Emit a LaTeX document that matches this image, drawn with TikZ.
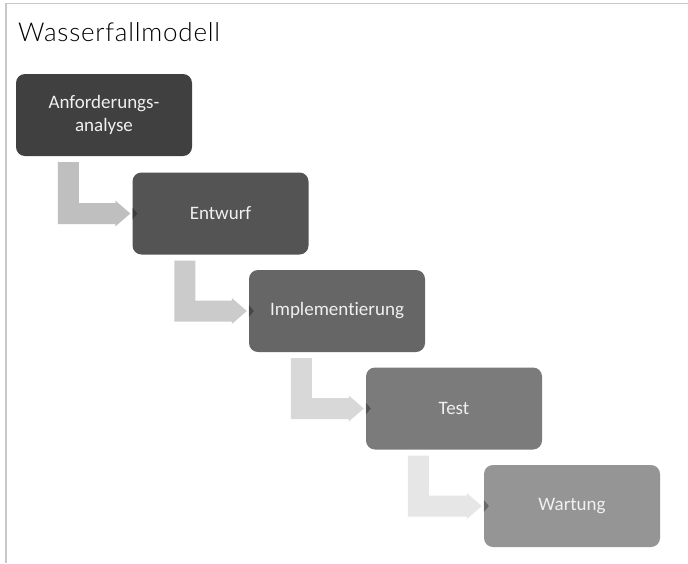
\documentclass[tikz,border=0pt]{standalone}
\usepackage{fontspec}
\setmainfont{Lato}
\newfontfamily\titlefont[LetterSpace=3]{Lato Light}
\newfontfamily\boxfont[Ligatures=NoCommon]{Carlito}
\usetikzlibrary{calc}

\definecolor{frameline}{HTML}{C8C8C8}
\definecolor{phaseA}{HTML}{404040}
\definecolor{phaseB}{HTML}{545454}
\definecolor{phaseC}{HTML}{666666}
\definecolor{phaseD}{HTML}{7B7B7B}
\definecolor{phaseE}{HTML}{959595}
\definecolor{flowA}{HTML}{BFBFBF}
\definecolor{flowB}{HTML}{CBCBCB}
\definecolor{flowC}{HTML}{D8D8D8}
\definecolor{flowD}{HTML}{E6E6E6}

\tikzset{
  phase/.style={rounded corners=9pt, minimum width=176pt, minimum height=82pt,
    inner sep=0pt, align=center, text=white!94!black,
    font=\boxfont\fontsize{19}{23}\selectfont},
}

% bent block arrow from the bottom of one phase into the left side of the next
\newcommand{\stepflow}[3]{%
  \coordinate (fl) at ($(#1.south west)+(42,0)$);
  \coordinate (fr) at ($(#1.south west)+(63,0)$);
  \fill[#3]
    ($(fl)+(0,6)$) -- ($(fr)+(0,6)$)
    -- ([yshift=10.5pt]fr |- #2.west)
    -- ($(#2.west)+(-17,-10.5)$) -- ($(#2.west)+(-17,-13)$)
    -- ($(#2.west)+(-2,0)$)
    -- ($(#2.west)+(-17,13)$) -- ($(#2.west)+(-17,10.5)$)
    -- ([yshift=-10.5pt]fl |- #2.west) -- cycle;
}
% small shaded tip where a flow meets the next phase
\newcommand{\flowtip}[1]{%
  \fill[black, opacity=0.3] ($(#1.west)+(0,-6)$) -- ($(#1.west)+(5,0)$) -- ($(#1.west)+(0,6)$) -- cycle;
}

\begin{document}
\begin{tikzpicture}[x=1pt, y=-1pt]
  \useasboundingbox (0,0) rectangle (688,563);
  \fill[white] (0,0) rectangle (688,563);

  % page frame
  \draw[frameline, line width=1.5pt] (688,3.5) -- (6,3.5) -- (6,563);

  \node[anchor=base west, inner sep=0pt, font=\titlefont\fontsize{26}{30}\selectfont] (title) at (18,41) {Wasserfallmodell};

  \node[phase, fill=phaseA] (anf) at (104,115) {Anforderungs-\\analyse};
  \node[phase, fill=phaseB] (ent) at (220.5,213.5) {Entwurf};
  \node[phase, fill=phaseC] (imp) at (337,311) {Implementierung};
  \node[phase, fill=phaseD] (tst) at (454,408.5) {Test};
  \node[phase, fill=phaseE] (wrt) at (572,506) {Wartung};

  \stepflow{anf}{ent}{flowA}
  \stepflow{ent}{imp}{flowB}
  \stepflow{imp}{tst}{flowC}
  \stepflow{tst}{wrt}{flowD}

  \flowtip{ent}
  \flowtip{imp}
  \flowtip{tst}
  \flowtip{wrt}
\end{tikzpicture}
\end{document}
